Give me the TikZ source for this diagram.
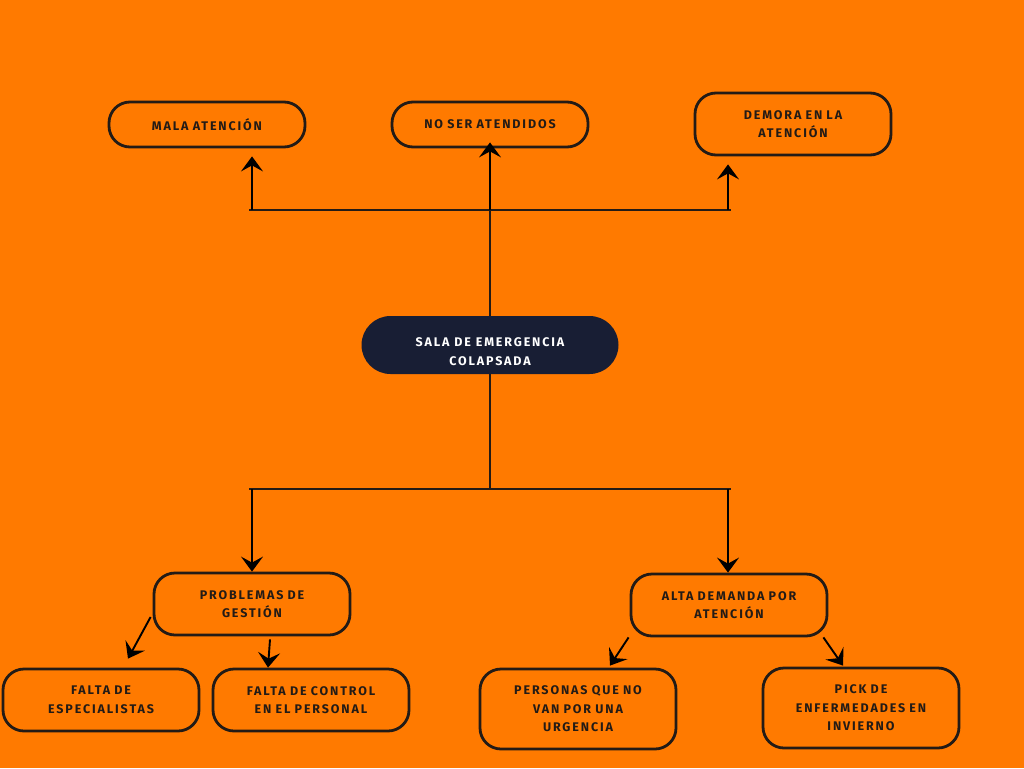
\documentclass[tikz,border=0pt]{standalone}
\usepackage{fontspec}
\newfontfamily\boxfont[LetterSpace=15]{Fira Sans}
\usetikzlibrary{arrows.meta}
\definecolor{bgorange}{HTML}{FF7A00}
\definecolor{inkdark}{HTML}{231B16}
\definecolor{navy}{HTML}{181E34}

\begin{document}
\begin{tikzpicture}[
    x=1pt, y=-1pt,
    arrow/.style ={draw=black, line width=1.9pt, -{Stealth[length=15pt, width=22pt, inset=6pt]}},
    branch/.style={draw=inkdark, line width=2.8pt},
    cause/.style = {rectangle, rounded corners=21pt, draw=inkdark, line width=2.8pt, minimum width=196pt, minimum height=62pt, text width=188pt, align=center, text=inkdark, font=\boxfont\bfseries\fontsize{12.5}{18.5}\selectfont},
    core/.style = {rectangle, rounded corners=29pt, fill=navy, minimum width=257pt, minimum height=58pt}
  ]
  \fill[bgorange] (0,0) rectangle (1024,768);
  \useasboundingbox (0,0) rectangle (1024,768);

  % effects
  \node (mala) [cause, minimum height=45pt] at (207,124.5) {MALA ATENCIÓN};
  \node (atendidos) [cause, minimum height=45pt] at (490,124.5) {NO SER ATENDIDOS};
  \node (demora) [cause] at (793,124) {DEMORA EN LA\\ATENCIÓN};
  % problem
  \node (sala) [core] at (490,345) {};
  \node (salatext) [text=white, align=center, font=\boxfont\bfseries\fontsize{12.5}{19}\selectfont] at (490,352) {SALA DE EMERGENCIA\\COLAPSADA};
  % causes
  \node (gestion) [cause] at (252,604) {PROBLEMAS DE\\GESTIÓN};
  \node (demanda) [cause] at (729,605) {ALTA DEMANDA POR\\ATENCIÓN};
  \node (especialistas) [cause] at (101,700) {FALTA DE\\ESPECIALISTAS};
  \node (control) [cause] at (311,700) {FALTA DE CONTROL\\EN EL PERSONAL};
  \node (personas) [cause, minimum height=80pt] at (578,709) {PERSONAS QUE NO\\VAN POR UNA\\URGENCIA};
  \node (pick) [cause, minimum height=80pt] at (861,708) {PICK DE\\ENFERMEDADES EN\\INVIERNO};

  \coordinate (topL) at (249,210);
  \coordinate (topM) at (490,210);
  \coordinate (topR) at (731,210);
  \coordinate (botL) at (249,489);
  \coordinate (botM) at (490,489);
  \coordinate (botR) at (731,489);

  \begin{scope}[every path/.style=branch]
    \path (topL) -- (topR);
    \path (topM) -- (sala.north);
    \path (sala.south) -- (botM);
    \path (botL) -- (botR);
  \end{scope}
  \begin{scope}[every path/.style=arrow]
    \path ([xshift=3]topL) -- ([shift={(45,8)}]mala.south);
    \path (topM) -- ([yshift=6]atendidos.south);
    \path ([xshift=-3]topR) -- ([shift={(-65,8)}]demora.south);
    \path ([xshift=3]botL) -- (gestion.north);
    \path ([xshift=-3]botR) -- ([xshift=-1]demanda.north);
    \path ([shift={(-2,13)}]gestion.west) -- ([shift={(27,-9)}]especialistas.north);
    \path ([shift={(18,3)}]gestion.south) -- ([xshift=-43]control.north);
    \path ([xshift=-1]demanda.south west) -- ([shift={(32,-2)}]personas.north);
    \path ([xshift=-5]demanda.south east) -- ([shift={(-18,-1)}]pick.north);
  \end{scope}
\end{tikzpicture}
\end{document}
